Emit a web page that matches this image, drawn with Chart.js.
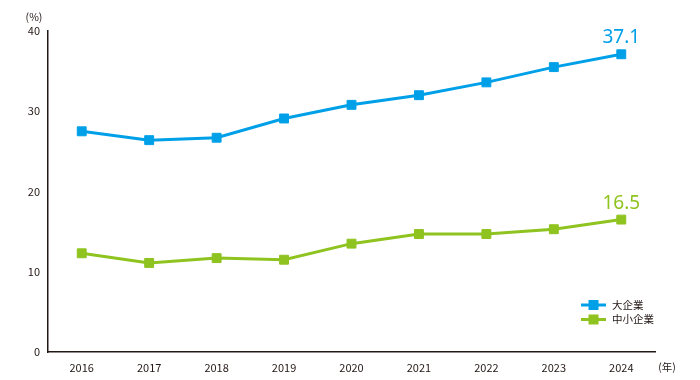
<!DOCTYPE html>
<html><head><meta charset="utf-8">
<script src="https://cdn.jsdelivr.net/npm/chart.js@4/dist/chart.umd.min.js"></script>
<style>html,body{margin:0;padding:0;background:#fff;}#c{display:block;}</style>
</head><body>
<canvas id="c" width="700" height="380"></canvas>
<script>
const categories = ['2016','2017','2018','2019','2020','2021','2022','2023','2024'];
const largeValues = [27.5, 26.4, 26.7, 29.1, 30.8, 32.0, 33.6, 35.5, 37.1];
const smeValues = [12.3, 11.1, 11.7, 11.5, 13.5, 14.7, 14.7, 15.3, 16.5];
const seriesNames = ['大企業', '中小企業'];
const yTicks = [0, 10, 20, 30, 40];
const lastLabels = ['37.1', '16.5'];

const BLUE = '#00a0e9', GREEN = '#8fc31f', INK = '#231815';
const FONT = "'Noto Sans CJK JP', 'Noto Sans', sans-serif";

const extras = {
  id: 'extras',
  afterDatasetsDraw(chart) {
    const ctx = chart.ctx;
    ctx.save();
    // end labels
    chart.data.datasets.forEach((ds, i) => {
      const meta = chart.getDatasetMeta(i);
      const pt = meta.data[meta.data.length - 1];
      ctx.fillStyle = ds.borderColor;
      ctx.font = "19px 'Noto Sans', sans-serif";
      ctx.textAlign = 'center';
      ctx.textBaseline = 'alphabetic';
      ctx.fillText(lastLabels[i], pt.x, pt.y - 11);
    });
    // unit labels
    ctx.fillStyle = INK;
    ctx.font = "10.5px " + FONT;
    ctx.textAlign = 'center';
    ctx.textBaseline = 'middle';
    ctx.fillText('(%)', 34, 17);
    ctx.fillText('(年)', 667, 367);
    // legend
    chart.data.datasets.forEach((ds, i) => {
      const y = 305 + i * 14.5;
      ctx.strokeStyle = ds.borderColor;
      ctx.lineWidth = 3;
      ctx.beginPath(); ctx.moveTo(581, y); ctx.lineTo(606, y); ctx.stroke();
      ctx.fillStyle = ds.borderColor;
      ctx.fillRect(588.5, y - 5, 10, 10);
      ctx.fillStyle = INK;
      ctx.font = "10.5px " + FONT;
      ctx.textAlign = 'left';
      ctx.textBaseline = 'middle';
      ctx.fillText(ds.label, 612, y);
    });
    ctx.restore();
  }
};

new Chart(document.getElementById('c'), {
  type: 'line',
  data: {
    labels: categories,
    datasets: [
      { label: seriesNames[0], data: largeValues, borderColor: BLUE, backgroundColor: BLUE,
        borderWidth: 3, pointStyle: 'rect', pointRadius: 6.3, pointBorderWidth: 1,
        pointBackgroundColor: BLUE, pointBorderColor: BLUE, tension: 0 },
      { label: seriesNames[1], data: smeValues, borderColor: GREEN, backgroundColor: GREEN,
        borderWidth: 3, pointStyle: 'rect', pointRadius: 6.3, pointBorderWidth: 1,
        pointBackgroundColor: GREEN, pointBorderColor: GREEN, tension: 0 }
    ]
  },
  options: {
    responsive: false,
    animation: false,
    layout: { padding: { left: 0, right: 45, top: 31, bottom: 0 } },
    plugins: { legend: { display: false }, tooltip: { enabled: false } },
    scales: {
      x: {
        offset: true,
        grid: { display: false, drawTicks: false },
        border: { display: true, color: INK, width: 1.5 },
        ticks: { color: INK, font: { family: FONT, size: 11 }, padding: 9, maxRotation: 0 },
        afterFit(s) { s.height = 28; }
      },
      y: {
        min: 0, max: 40,
        afterBuildTicks(s) { s.ticks = yTicks.map(v => ({ value: v })); },
        grid: { display: false, drawTicks: false },
        border: { display: true, color: INK, width: 1.5 },
        ticks: { color: INK, font: { family: FONT, size: 11 }, padding: 8 },
        afterFit(s) { s.width = 48; }
      }
    }
  },
  plugins: [extras]
});
</script>
</body></html>
